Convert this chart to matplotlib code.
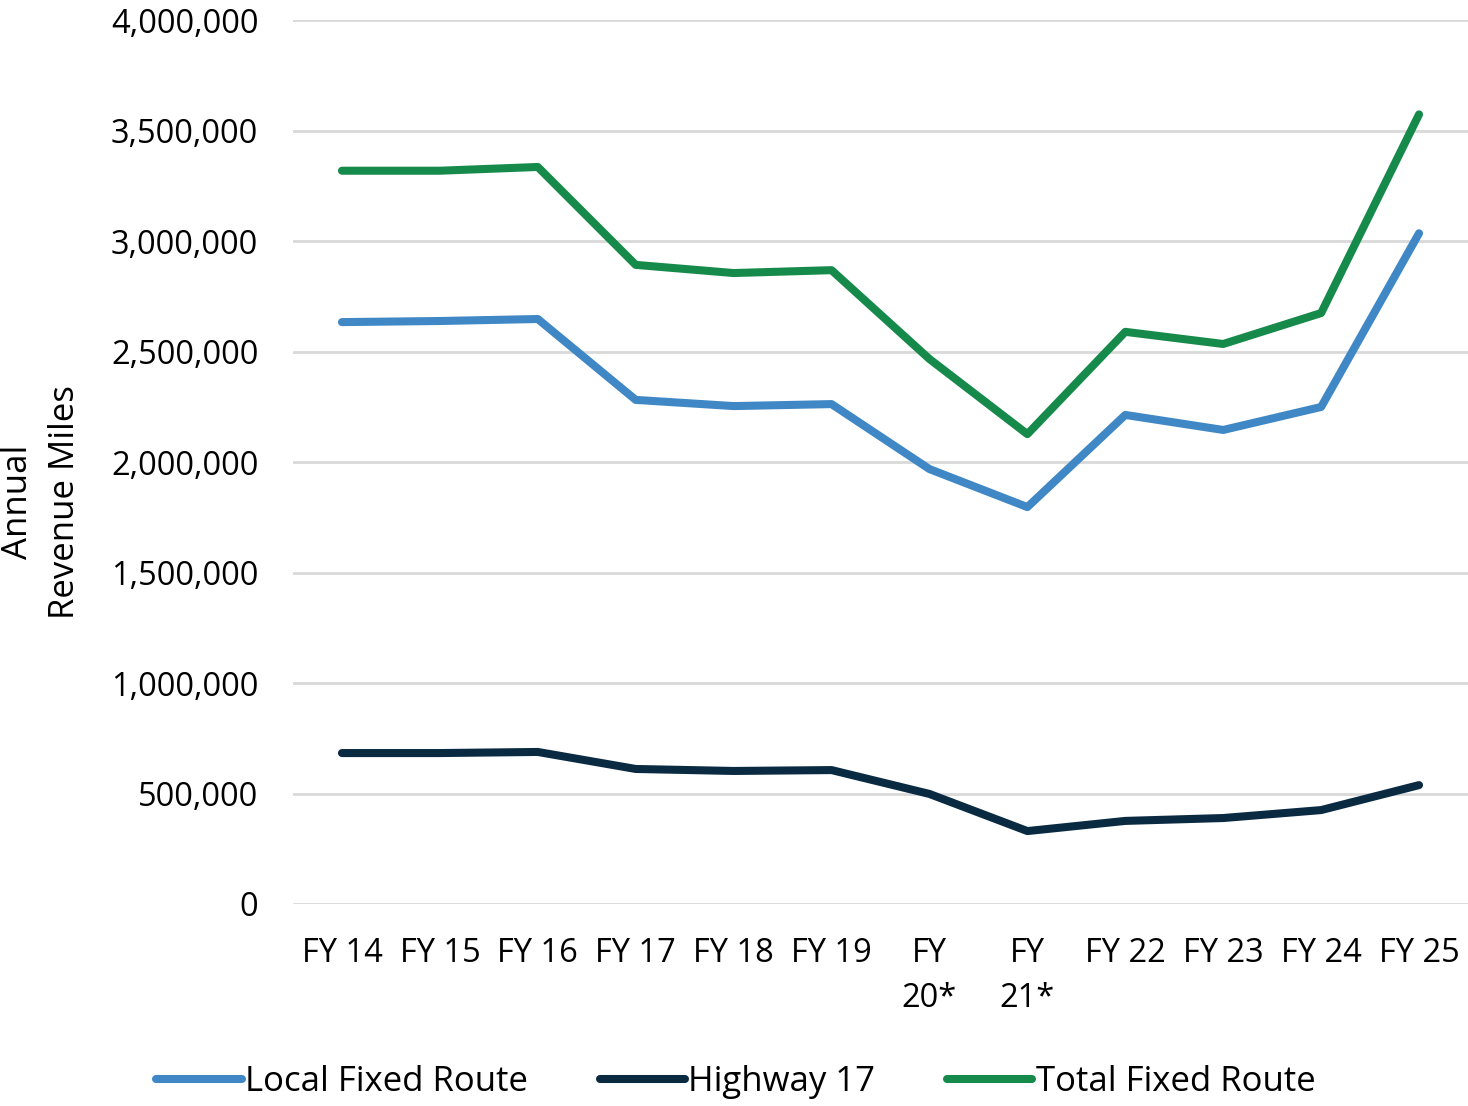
import matplotlib
matplotlib.use("Agg")
import matplotlib.pyplot as plt
from matplotlib.ticker import FuncFormatter

plt.rcParams['font.family'] = ['Open Sans', 'DejaVu Sans']

years = ["FY 14", "FY 15", "FY 16", "FY 17", "FY 18", "FY 19",
         "FY\n20*", "FY\n21*", "FY 22", "FY 23", "FY 24", "FY 25"]
local_fixed = [2633000, 2638000, 2647000, 2281000, 2253000, 2262000,
               1968000, 1796000, 2213000, 2145000, 2249000, 3035000]
highway_17 = [683000, 683000, 688000, 611000, 602000, 606000,
              498000, 330000, 376000, 389000, 425000, 538000]
total_fixed = [3318000, 3318000, 3335000, 2892000, 2855000, 2868000,
               2466000, 2126000, 2589000, 2534000, 2674000, 3573000]

series = [
    ("Local Fixed Route", local_fixed, "#3F88C5"),
    ("Highway 17", highway_17, "#0A2A42"),
    ("Total Fixed Route", total_fixed, "#168A4A"),
]

fig = plt.figure(figsize=(14.68, 11.06), dpi=100)
ax = fig.add_axes([293 / 1468, 1 - 904 / 1106, 1175 / 1468, 884 / 1106])

x = list(range(len(years)))
for name, vals, col in series:
    ax.plot(x, vals, color=col, lw=5.8, solid_capstyle='round',
            solid_joinstyle='round', label=name)

ax.set_xlim(-0.5, len(years) - 0.5)
ax.set_ylim(0, 4000000)
ax.set_yticks(range(0, 4000001, 500000))
ax.yaxis.set_major_formatter(FuncFormatter(lambda v, p: f"{int(v):,}"))
ax.set_xticks(x)
ax.set_xticklabels(years)
ax.grid(axis='y', color='#d9d9d9', lw=2)
ax.set_axisbelow(True)
for s in ax.spines.values():
    s.set_visible(False)
ax.tick_params(axis='both', length=0, labelsize=23.5, colors='black')
ax.tick_params(axis='y', pad=25)
ax.tick_params(axis='x', pad=24)
for lbl in ax.get_xticklabels():
    lbl.set_verticalalignment('top')
    lbl.set_linespacing(1.45)

fig.text(18 / 1468, 1 - 502 / 1106, "Annual", rotation=90, fontsize=25,
         ha='center', va='center')
fig.text(65 / 1468, 1 - 502 / 1106, "Revenue Miles", rotation=90, fontsize=25,
         ha='center', va='center')

leg = fig.legend(loc='center', bbox_to_anchor=(736 / 1468, 1 - 1082 / 1106),
                 ncol=3, frameon=False, fontsize=25, handlelength=2.45,
                 handletextpad=0.1, columnspacing=2.07)

fig.savefig("out.png", dpi=100, facecolor='white')
